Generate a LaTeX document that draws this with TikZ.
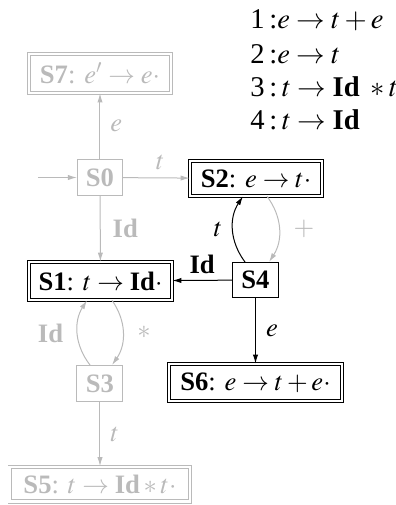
\documentclass[tikz,border=0pt]{standalone}
\usepackage{mathptmx}
\usepackage{fontspec}
\setmainfont{Liberation Serif}
\usetikzlibrary{arrows.meta}
\begin{document}
\begin{tikzpicture}[x=0.5pt,y=-0.5pt,
  font=\fontsize{13.3}{16}\selectfont,
  st/.style={draw, rectangle, inner sep=0pt, line width=0.5pt},
  acc/.style={st, double, double distance=1.2pt},
  dim/.style={draw=black!27, text=black!27},
  ar/.style={-{Latex[length=4.5pt,width=2.6pt]}, line width=0.5pt},
  dimar/.style={ar, draw=black!27},
  lbl/.style={inner sep=1pt},
  gr/.style={anchor=west, inner sep=0pt, font=\fontsize{14.3}{17}\selectfont}]
\useasboundingbox (0,0) rectangle (396,505);

% grammar
\node[gr] (g1) at (250,20) {1\,:$e\rightarrow t+e$};
\node[gr] (g2) at (250,54) {2\,:$e\rightarrow t$};
\node[gr] (g3) at (250,87) {3\,:\,$t\rightarrow\textbf{Id}\ * t$};
\node[gr] (g4) at (250,120) {4\,:\,$t\rightarrow\textbf{Id}$};

% states
\node[acc, dim, minimum width=70.8pt, minimum height=19.3pt] (S7) at (100,73.5) {\textbf{S7}: $e'\rightarrow e\cdot$};
\node[st, dim, minimum width=22.5pt, minimum height=18pt] (S0) at (100,177.5) {\textbf{S0}};
\node[acc, minimum width=65.8pt, minimum height=17.3pt] (S2) at (256,178.5) {\textbf{S2}: $e\rightarrow t\cdot$};
\node[acc, minimum width=71.3pt, minimum height=18.8pt] (S1) at (100.5,281) {\textbf{S1}: $t\rightarrow \textbf{Id}\cdot$};
\node[st, minimum width=23pt, minimum height=17.5pt] (S4) at (255.5,280) {\textbf{S4}};
\node[st, dim, minimum width=23pt, minimum height=18pt] (S3) at (100,383.5) {\textbf{S3}};
\node[acc, minimum width=86.3pt, minimum height=18.3pt] (S6) at (255.5,382.5) {\textbf{S6}: $e\rightarrow t+e\cdot$};
\node[acc, dim, minimum width=90.3pt, minimum height=17.3pt] (S5) at (100,484) {\textbf{S5}: $t\rightarrow \textbf{Id} * t\cdot$};

\coordinate (in) at (38,177.5);

% edges
\draw[dimar] (in) -- (S0);
\draw[dimar] (S0) -- node[lbl, right=4pt, text=black!27] {$e$} (S7);
\draw[dimar] (S0) -- node[lbl, above=3pt, xshift=2pt, text=black!27] {$t$} (S2);
\draw[dimar] (S0) -- node[lbl, right=5pt, text=black!27] {\textbf{Id}} (S1);
\draw[ar] ([xshift=-5.25pt]S4.north) to[bend left=35] node[lbl, left=4pt] {$t$} ([xshift=-6.5pt]S2.south);
\draw[dimar] ([xshift=5.5pt]S2.south) to[bend left=35] node[lbl, right=6pt, text=black!27] {$+$} ([xshift=6.75pt]S4.north);
\draw[ar] (S4) -- node[lbl, above=2pt] {\textbf{Id}} (S1);
\draw[ar] (S4) -- node[lbl, right=4pt] {$e$} (S6);
\draw[dimar] ([xshift=5.75pt]S1.south) to[bend left=35] node[lbl, right=6pt, text=black!27] {$*$} ([xshift=6pt]S3.north);
\draw[dimar] ([xshift=-5pt]S3.north) to[bend left=35] node[lbl, left=6pt, text=black!27] {\textbf{Id}} ([xshift=-6.75pt]S1.south);
\draw[dimar] (S3) -- node[lbl, right=4pt, text=black!27] {$t$} (S5);
\end{tikzpicture}
\end{document}
